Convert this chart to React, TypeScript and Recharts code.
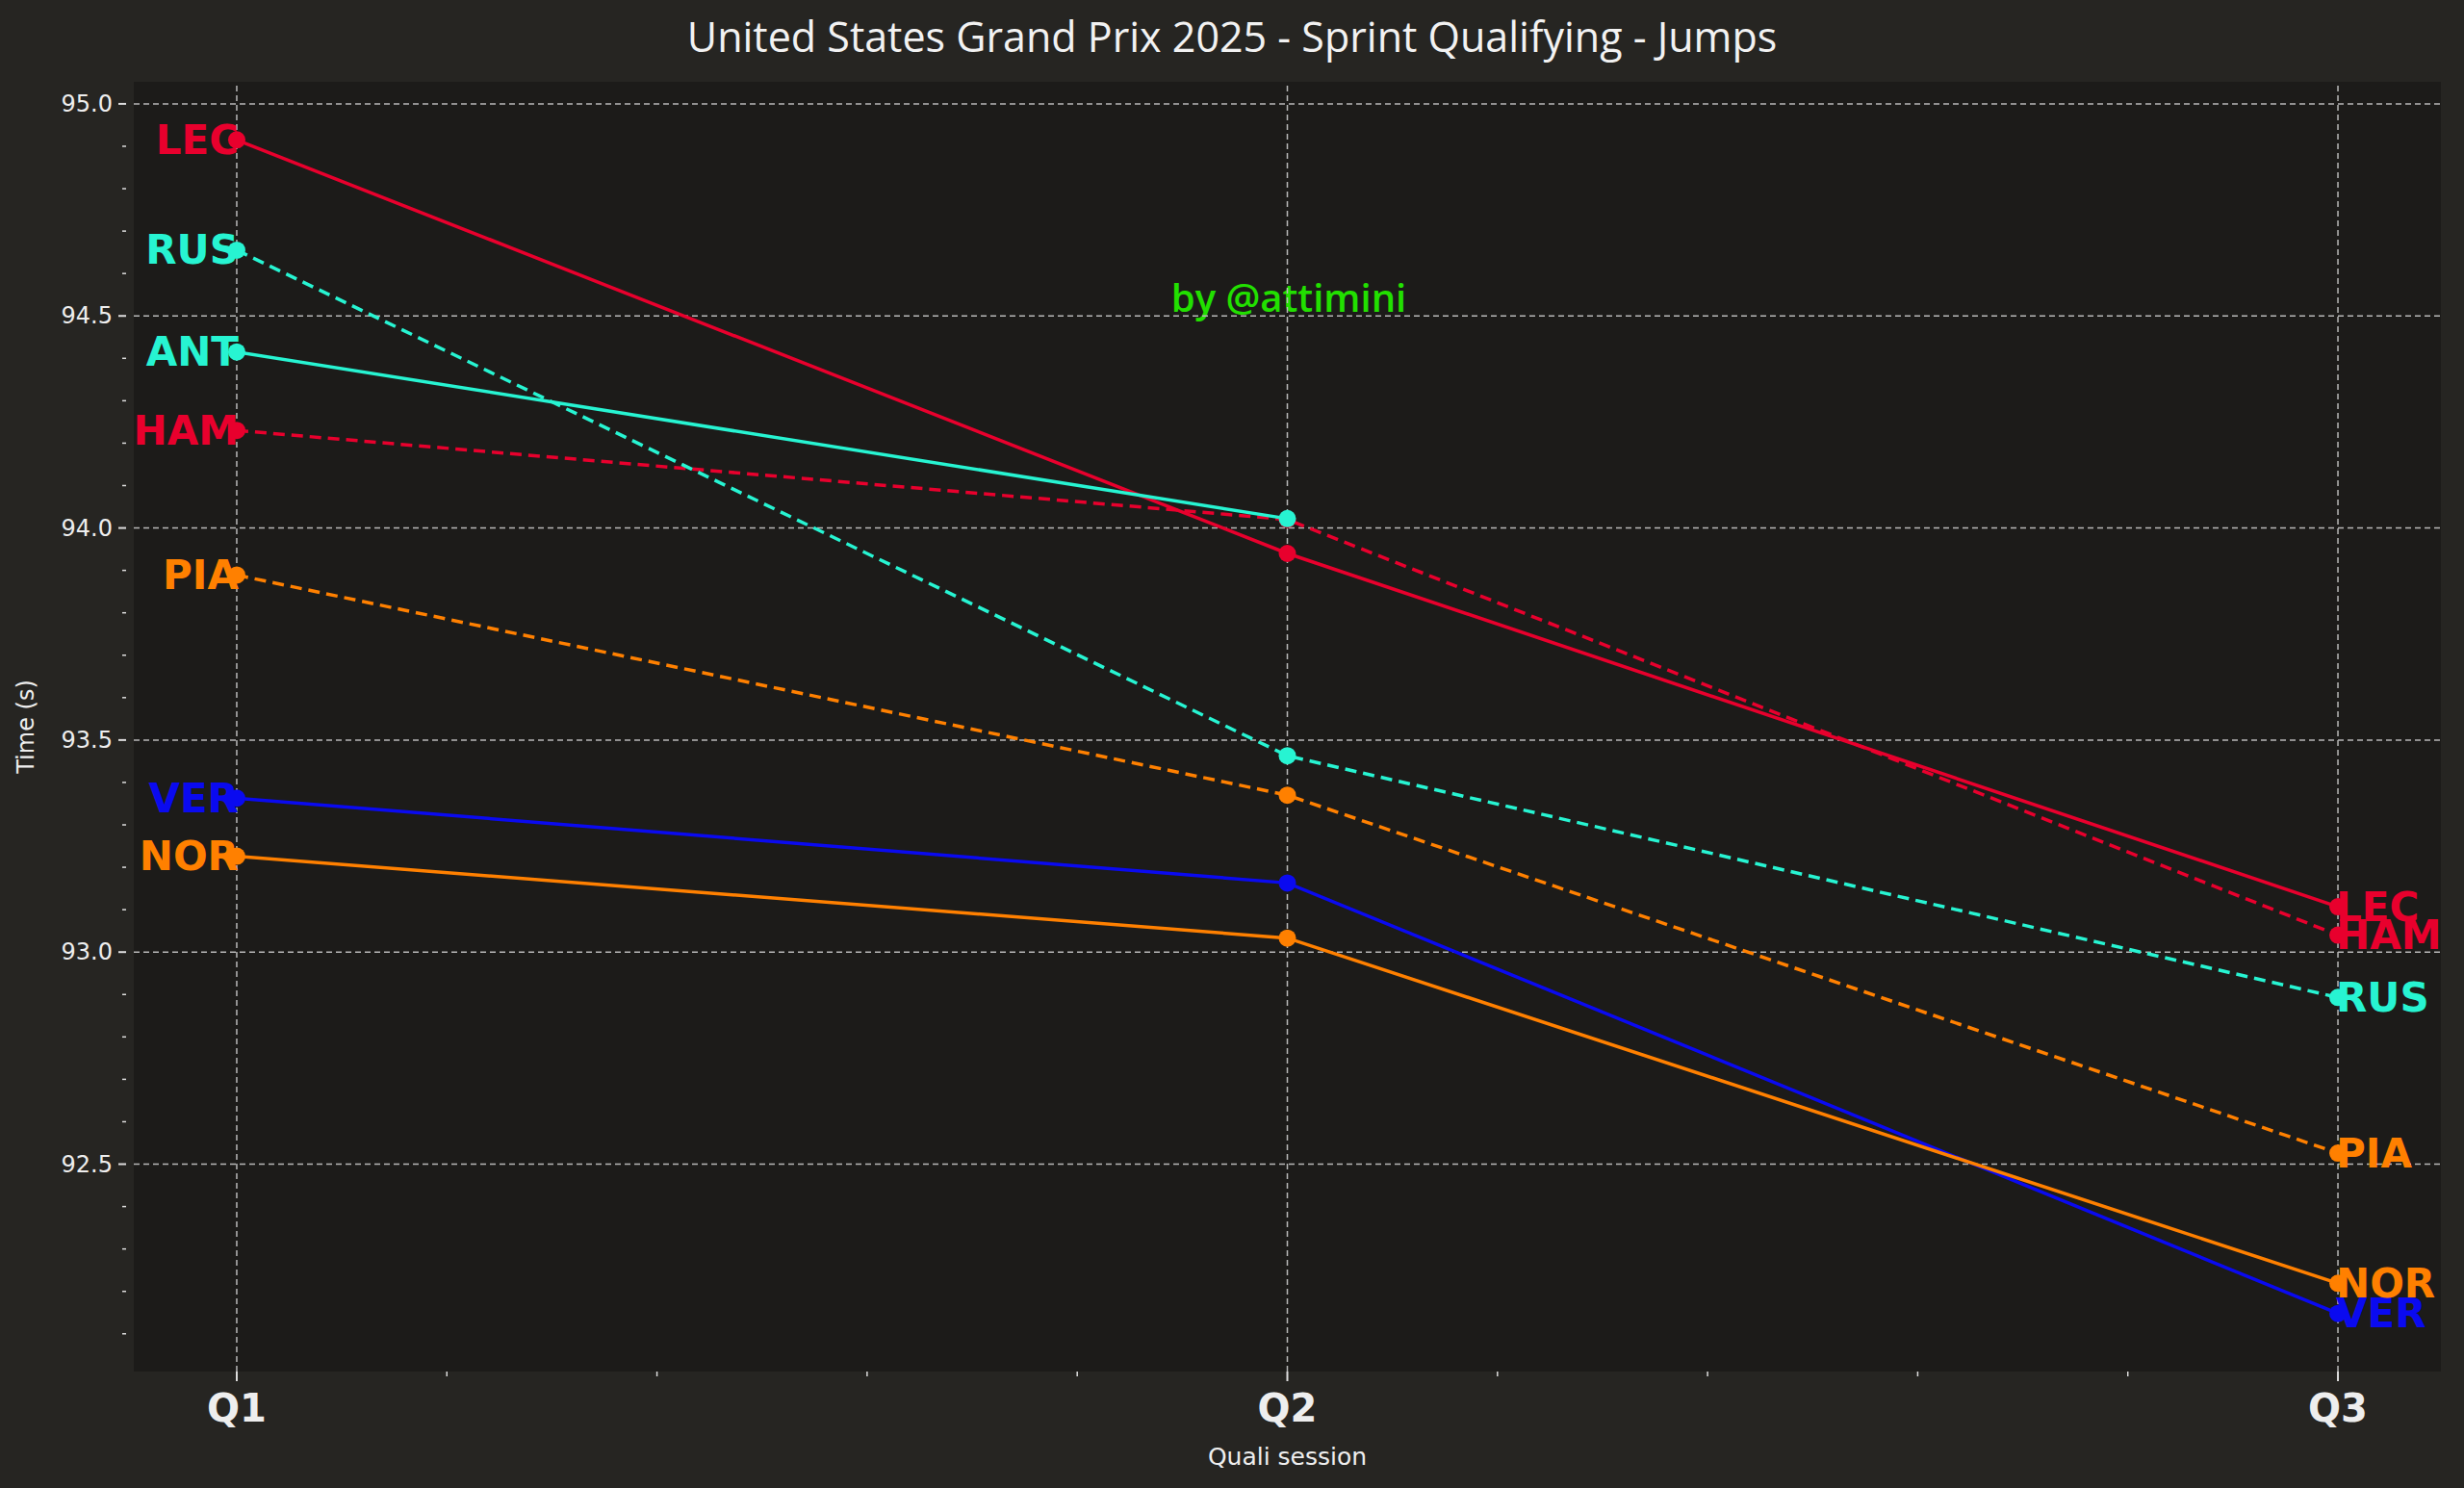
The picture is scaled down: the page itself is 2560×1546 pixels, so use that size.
import React from "react";
import { LineChart, Line, XAxis, YAxis, CartesianGrid, ReferenceLine, LabelList, Label } from "recharts";

const sessions = ["Q1", "Q2", "Q3"];
const LEC = [94.915, 93.94, 93.107];
const HAM = [94.23, 94.02, 93.04];
const RUS = [94.655, 93.463, 92.893];
const ANT = [94.415, 94.022, null];
const PIA = [93.889, 93.37, 92.526];
const VER = [93.363, 93.163, 92.148];
const NOR = [93.226, 93.033, 92.219];

const drivers = [
  { key: "LEC", vals: LEC, color: "#e8002d", dash: false },
  { key: "HAM", vals: HAM, color: "#e8002d", dash: true },
  { key: "RUS", vals: RUS, color: "#27f4d2", dash: true },
  { key: "ANT", vals: ANT, color: "#27f4d2", dash: false },
  { key: "PIA", vals: PIA, color: "#ff8000", dash: true },
  { key: "VER", vals: VER, color: "#0a0af0", dash: false },
  { key: "NOR", vals: NOR, color: "#ff8000", dash: false },
];

const data = sessions.map((s, i) => {
  const row: any = { x: i, name: s };
  drivers.forEach((d) => (row[d.key] = d.vals[i]));
  return row;
});

const majorY = [92.5, 93.0, 93.5, 94.0, 94.5, 95.0];
const minorY: number[] = [];
for (let i = 921; i <= 950; i++) minorY.push(i / 10);
const xTicks = [0, 0.2, 0.4, 0.6, 0.8, 1, 1.2, 1.4, 1.6, 1.8, 2];

const FONT = "DejaVu Sans, sans-serif";

const YTick = (p: any) => {
  const v = p.payload.value;
  const major = majorY.some((m) => Math.abs(m - v) < 1e-6);
  return (
    <g>
      <line x1={p.x} x2={p.x - (major ? 8 : 4)} y1={p.y} y2={p.y} stroke="#dddddd" strokeWidth={major ? 2 : 1.5} />
      {major && (
        <text x={p.x - 14} y={p.y} fill="#eeeeee" fontSize={24} fontFamily={FONT} textAnchor="end" dominantBaseline="central">
          {v.toFixed(1)}
        </text>
      )}
    </g>
  );
};

const XTick = (p: any) => {
  const v = p.payload.value;
  const idx = [0, 1, 2].findIndex((m) => Math.abs(m - v) < 1e-6);
  const major = idx >= 0;
  return (
    <g>
      <line x1={p.x} x2={p.x} y1={p.y - 8} y2={p.y - 8 + (major ? 10 : 5)} stroke="#dddddd" strokeWidth={major ? 2 : 1.5} />
      {major && (
        <text x={p.x} y={p.y + 44} fill="#eeeeee" fontSize={40} fontWeight="bold" fontFamily={FONT} textAnchor="middle">
          {sessions[idx]}
        </text>
      )}
    </g>
  );
};

const makeLabel = (name: string, color: string, last: number) => (p: any) => {
  const { x, y, index } = p;
  if (index !== 0 && index !== last) return null;
  const left = index === 0;
  return (
    <text x={left ? x + 2 : x - 2} y={y} fill={color} fontSize={42} fontWeight="bold" fontFamily={FONT}
      textAnchor={left ? "end" : "start"} dominantBaseline="central">
      {name}
    </text>
  );
};

export default function App() {
  return (
    <div style={{ position: "absolute", left: 0, top: 0, width: 2560, height: 1546, background: "#262522" }}>
      <div style={{ position: "absolute", top: 8, width: 2560, textAlign: "center", color: "#f2f2f2", fontSize: 43, fontFamily: "Open Sans, sans-serif" }}>
        United States Grand Prix 2025 - Sprint Qualifying - Jumps
      </div>
      <LineChart width={2560} height={1546} data={data} margin={{ top: 85, right: 24, bottom: 0, left: 0 }}>
        <rect x={139} y={85} width={2397} height={1340} fill="#1c1b19" />
        <CartesianGrid horizontalValues={minorY} verticalValues={xTicks} stroke="#3a3936" strokeDasharray="4 4" strokeWidth={1} />
        {majorY.map((v) => (
          <ReferenceLine key={v} y={v} stroke="#b8b8b8" strokeDasharray="6 4" strokeWidth={1.5} />
        ))}
        {[0, 1, 2].map((v) => (
          <ReferenceLine key={"x" + v} x={v} stroke="#b8b8b8" strokeDasharray="6 4" strokeWidth={1.5} />
        ))}
        <XAxis dataKey="x" type="number" domain={[-0.098, 2.098]} ticks={xTicks} height={121} axisLine={false} tickLine={false} tick={<XTick />} interval={0}>
          <Label value="Quali session" position="insideBottom" offset={24} fill="#eeeeee" fontSize={25} fontFamily={FONT} />
        </XAxis>
        <YAxis type="number" domain={[92.011, 95.052]} ticks={minorY} width={139} axisLine={false} tickLine={false} tick={<YTick />} interval={0} allowDataOverflow>
          <Label value="Time (s)" angle={-90} position="insideLeft" offset={26} fill="#eeeeee" fontSize={24} fontFamily={FONT} style={{ textAnchor: "middle" }} />
        </YAxis>
        {drivers.map((d) => {
          const last = d.vals[2] == null ? 1 : 2;
          return (
            <Line key={d.key} dataKey={d.key} stroke={d.color} strokeWidth={3.5} strokeDasharray={d.dash ? "12 7" : undefined}
              dot={{ r: 9, fill: d.color, stroke: d.color, strokeWidth: 0 }} activeDot={false} isAnimationActive={false} connectNulls={false}>
              <LabelList dataKey={d.key} content={makeLabel(d.key, d.color, d.key === "ANT" ? 0 : last)} />
            </Line>
          );
        })}
        <text x={1339} y={308} fill="#22e000" fontSize={40} fontWeight={600} fontFamily="Open Sans, sans-serif" textAnchor="middle" dominantBaseline="central">
          by @attimini
        </text>
      </LineChart>
    </div>
  );
}
